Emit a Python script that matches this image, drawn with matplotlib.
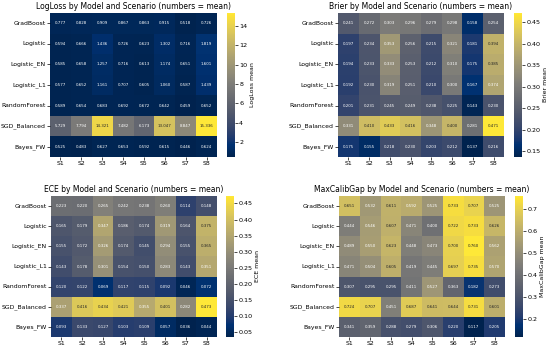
import numpy as np
import pandas as pd
import matplotlib
matplotlib.use("Agg")
import matplotlib.pyplot as plt
import seaborn as sns

models = ["GradBoost", "Logistic", "Logistic_EN", "Logistic_L1",
          "RandomForest", "SGD_Balanced", "Bayes_FW"]
scenarios = ["S1", "S2", "S3", "S4", "S5", "S6", "S7", "S8"]

logloss = [
    [0.777, 0.828, 0.909, 0.867, 0.863, 0.915, 0.518, 0.726],
    [0.594, 0.666, 1.436, 0.726, 0.623, 1.302, 0.716, 1.819],
    [0.585, 0.658, 1.257, 0.716, 0.613, 1.174, 0.651, 1.601],
    [0.577, 0.652, 1.161, 0.707, 0.605, 1.060, 0.587, 1.439],
    [0.589, 0.654, 0.683, 0.692, 0.672, 0.642, 0.459, 0.652],
    [5.729, 7.794, 14.321, 7.482, 6.173, 13.047, 8.847, 15.336],
    [0.525, 0.483, 0.627, 0.653, 0.592, 0.615, 0.446, 0.624],
]
brier = [
    [0.241, 0.272, 0.303, 0.296, 0.279, 0.298, 0.158, 0.254],
    [0.197, 0.234, 0.353, 0.256, 0.215, 0.321, 0.181, 0.394],
    [0.194, 0.233, 0.333, 0.253, 0.212, 0.310, 0.175, 0.385],
    [0.192, 0.230, 0.319, 0.251, 0.210, 0.300, 0.167, 0.374],
    [0.201, 0.231, 0.245, 0.249, 0.238, 0.225, 0.143, 0.230],
    [0.331, 0.410, 0.433, 0.416, 0.348, 0.400, 0.281, 0.471],
    [0.175, 0.155, 0.218, 0.230, 0.203, 0.212, 0.137, 0.216],
]
ece = [
    [0.223, 0.220, 0.265, 0.242, 0.238, 0.260, 0.114, 0.148],
    [0.165, 0.179, 0.347, 0.186, 0.174, 0.319, 0.164, 0.375],
    [0.155, 0.172, 0.326, 0.174, 0.145, 0.294, 0.155, 0.365],
    [0.143, 0.178, 0.301, 0.154, 0.150, 0.283, 0.143, 0.351],
    [0.120, 0.122, 0.069, 0.117, 0.115, 0.092, 0.046, 0.072],
    [0.337, 0.416, 0.434, 0.421, 0.355, 0.401, 0.282, 0.473],
    [0.093, 0.133, 0.127, 0.103, 0.109, 0.057, 0.036, 0.044],
]
maxcalibgap = [
    [0.651, 0.532, 0.611, 0.592, 0.525, 0.733, 0.707, 0.525],
    [0.444, 0.546, 0.607, 0.471, 0.400, 0.722, 0.733, 0.626],
    [0.489, 0.550, 0.623, 0.448, 0.473, 0.700, 0.760, 0.562],
    [0.471, 0.504, 0.605, 0.419, 0.445, 0.697, 0.735, 0.570],
    [0.307, 0.295, 0.295, 0.411, 0.527, 0.363, 0.182, 0.273],
    [0.724, 0.707, 0.451, 0.687, 0.641, 0.644, 0.731, 0.601],
    [0.341, 0.359, 0.288, 0.279, 0.306, 0.220, 0.117, 0.205],
]

metrics = [("LogLoss", logloss), ("Brier", brier),
           ("ECE", ece), ("MaxCalibGap", maxcalibgap)]

W, H = 550, 354
fig = plt.figure(figsize=(W / 100, H / 100), dpi=100)

# pixel boxes: heatmap (left, top, width, height), colorbar left
boxes = [(50, 13, 167, 144, 227), (338, 13, 166, 144, 514),
         (51, 196, 166, 141, 226), (339, 196, 166, 141, 515)]

for (name, vals), (l, t, w, h, cl) in zip(metrics, boxes):
    ax = fig.add_axes([l / W, 1 - (t + h) / H, w / W, h / H])
    cax = fig.add_axes([cl / W, 1 - (t + h) / H, 8 / W, h / H])
    df = pd.DataFrame(vals, index=models, columns=scenarios)
    sns.heatmap(df, ax=ax, cbar_ax=cax, cmap="cividis", annot=True,
                fmt=".3f", annot_kws={"size": 2.9})
    ax.set_title(f"{name} by Model and Scenario (numbers = mean)",
                 fontsize=5.5, pad=3)
    ax.tick_params(axis="both", labelsize=4.4, length=2, width=0.5, pad=1)
    ax.set_yticklabels(models, rotation=0)
    ax.set_xticklabels(scenarios, rotation=0)
    ax.set_xlabel("")
    ax.set_ylabel("")
    cax.tick_params(labelsize=4.6, length=2, width=0.5, pad=1)
    cax.set_ylabel(f"{name} mean", fontsize=4.5, labelpad=2)

fig.savefig("out.png", dpi=100)
